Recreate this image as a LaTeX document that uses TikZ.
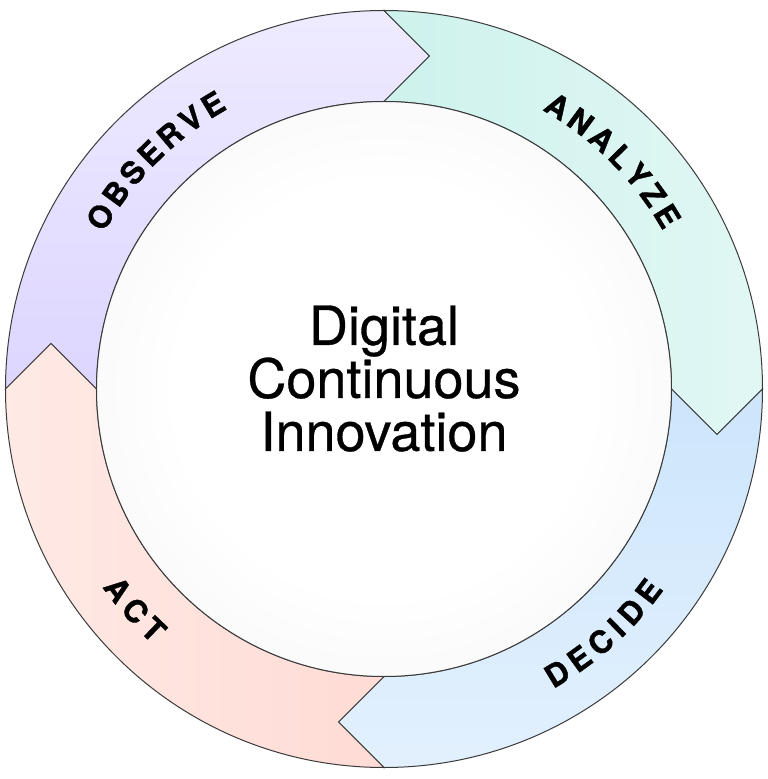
\documentclass[tikz,border=0pt]{standalone}
\usepackage{fontspec}
\setmainfont{TeX Gyre Heros}
\newfontfamily\lblfont[BoldFeatures={FakeBold=1.2}]{TeX Gyre Heros}
\newfontfamily\titlefont[FakeBold=0.6]{TeX Gyre Heros}
\definecolor{lineC}{HTML}{3A3A3A}
\definecolor{obsDark}{HTML}{D4CBFF}
\definecolor{obsLight}{HTML}{F7F5FF}
\definecolor{anaDark}{HTML}{C4EFE9}
\definecolor{anaLight}{HTML}{EBFAF8}
\definecolor{decDark}{HTML}{C1E0FA}
\definecolor{decLight}{HTML}{EEF6FF}
\definecolor{actDark}{HTML}{FFD4CC}
\definecolor{actLight}{HTML}{FFF1EE}
\definecolor{innerEdge}{HTML}{EAEAEA}
\pgfdeclarehorizontalshading{obsShade}{100bp}{color(0bp)=(obsDark); color(100bp)=(obsLight)}
\pgfdeclarehorizontalshading{anaShade}{100bp}{color(0bp)=(anaDark); color(100bp)=(anaLight)}
\pgfdeclarehorizontalshading{decShade}{100bp}{color(0bp)=(decLight); color(100bp)=(decDark)}
\pgfdeclarehorizontalshading{actShade}{100bp}{color(0bp)=(actLight); color(100bp)=(actDark)}
\pgfdeclareradialshading{innerGlow}{\pgfpoint{0bp}{0bp}}{color(0bp)=(white); color(18bp)=(white); color(50bp)=(innerEdge); color(60bp)=(innerEdge)}
\begin{document}
\begin{tikzpicture}[x=1pt,y=1pt,
  seg/.style={draw=lineC, line width=1pt, line join=miter},
  lbl/.style={inner sep=0pt, anchor=center, font=\lblfont\bfseries\fontsize{31}{31}\selectfont},
  title/.style={inner sep=0pt, align=center, font=\titlefont\fontsize{54}{53}\selectfont}]
\useasboundingbox (-384,-390) rectangle (384,389);
% OBSERVE segment
\path[seg, shading=obsShade, shading angle=90]
  (180:378.5) arc[start angle=180, end angle=90, radius=378.5]
  -- (45.5,333) -- (90:287.5) arc[start angle=90, end angle=180, radius=287.5]
  -- (-333,45.5) -- cycle;
% ANALYZE segment
\path[seg, shading=anaShade]
  (90:378.5) arc[start angle=90, end angle=0, radius=378.5]
  -- (333,-45.5) -- (0:287.5) arc[start angle=0, end angle=90, radius=287.5]
  -- (45.5,333) -- cycle;
% DECIDE segment
\path[seg, shading=decShade, shading angle=90]
  (0:378.5) arc[start angle=0, end angle=-90, radius=378.5]
  -- (-45.5,-333) -- (-90:287.5) arc[start angle=-90, end angle=0, radius=287.5]
  -- (333,-45.5) -- cycle;
% ACT segment
\path[seg, shading=actShade]
  (-90:378.5) arc[start angle=-90, end angle=-180, radius=378.5]
  -- (-333,45.5) -- (180:287.5) arc[start angle=180, end angle=270, radius=287.5]
  -- (-45.5,-333) -- cycle;
% inner disc
\path[draw=lineC, line width=1pt, shading=innerGlow] (0,0) circle[radius=287.5];
\node[title] (center) at (0,10.4) {Digital\\Continuous\\Innovation};
% labels
\foreach \a/\l [count=\i] in {148.72/O,143.85/B,139.23/S,134.74/E,130.12/R,125.51/V,121.02/E}
  \node[lbl, rotate=\a-90] (obs\i) at (\a:332) {\l};
\foreach \a/\l [count=\i] in {58.44/A,53.67/N,48.89/A,44.41/L,40.08/Y,35.74/Z,31.41/E}
  \node[lbl, rotate=\a-90] (ana\i) at (\a:332) {\l};
\foreach \a/\l [count=\i] in {-58.67/D,-54.06/E,-49.44/C,-45.73/I,-42.02/D,-37.4/E}
  \node[lbl, rotate=\a+90] (dec\i) at (\a:333) {\l};
\foreach \a/\l [count=\i] in {217.0/A,221.76/C,226.24/T}
  \node[lbl, rotate=\a+90] (act\i) at (\a:333) {\l};
\end{tikzpicture}
\end{document}
